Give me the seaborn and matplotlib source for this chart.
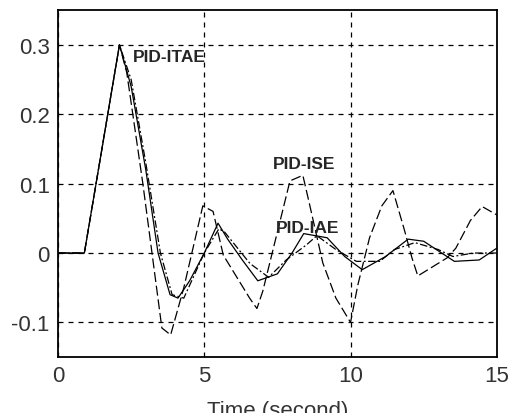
import numpy as np
import pandas as pd
import matplotlib
matplotlib.use("Agg")
import matplotlib.pyplot as plt
import seaborn as sns

# ---- data ----
itae_t = [0, 0.9, 2.1, 2.5, 3.0, 3.42, 3.83, 4.1, 4.5, 5.0, 5.47, 5.8, 6.3, 6.83, 7.5, 8.0, 8.4, 9.2, 9.8, 10.4, 11.2, 11.97, 12.5, 13.55, 14.4, 15.0]
itae_y = [0, 0, 0.30, 0.24, 0.12, 0.0, -0.06, -0.065, -0.04, 0.0, 0.043, 0.02, -0.01, -0.04, -0.03, 0.0, 0.028, 0.022, -0.005, -0.024, -0.005, 0.02, 0.017, -0.012, -0.01, 0.007]

ise_t = [0, 0.9, 2.1, 2.35, 2.9, 3.55, 3.85, 4.3, 4.95, 5.3, 5.65, 6.55, 6.8, 7.0, 7.93, 8.37, 8.6, 9.05, 9.5, 10.0, 10.25, 10.65, 11.07, 11.45, 11.85, 12.1, 12.3, 13.3, 13.6, 14.1, 14.5, 15.0]
ise_y = [0, 0, 0.30, 0.26, 0.10, -0.108, -0.118, -0.05, 0.068, 0.06, -0.003, -0.065, -0.08, -0.055, 0.104, 0.112, 0.07, -0.014, -0.065, -0.10, -0.046, 0.022, 0.068, 0.09, 0.032, -0.007, -0.033, -0.007, 0.007, 0.047, 0.067, 0.055]

iae_t = [0, 0.9, 2.1, 2.5, 3.0, 3.5, 3.9, 4.3, 5.0, 5.5, 5.7, 6.56, 7.2, 7.8, 8.5, 8.85, 9.5, 10.2, 11.0, 11.5, 12.2, 13.0, 13.5, 14.2, 15.0]
iae_y = [0, 0, 0.30, 0.25, 0.13, 0.0, -0.06, -0.065, 0.0, 0.035, 0.03, -0.015, -0.035, -0.01, 0.012, 0.025, 0.005, -0.012, -0.012, 0.005, 0.015, 0.005, -0.005, 0.0, 0.0]

x_ticks = [0, 5, 10, 15]
y_ticks = [-0.1, 0, 0.1, 0.2, 0.3]
y_tick_labels = ["-0.1", "0", "0.1", "0.2", "0.3"]

sns.set_style("white")
plt.rcParams['font.family'] = ['Liberation Sans', 'DejaVu Sans']

fig = plt.figure(figsize=(5.09, 4.14), dpi=100)
ax = fig.add_axes([0.114, 0.135, 0.862, 0.838])

sns.lineplot(x=itae_t, y=itae_y, ax=ax, color="black", linewidth=0.9, sort=False)
sns.lineplot(x=ise_t, y=ise_y, ax=ax, color="black", linewidth=0.9, sort=False,
             linestyle=(0, (8, 3)))
sns.lineplot(x=iae_t, y=iae_y, ax=ax, color="black", linewidth=0.9, sort=False,
             linestyle=(0, (6, 2, 1.5, 2)))

ax.set_xlim(0, 15)
ax.set_ylim(-0.15, 0.35)
ax.set_xticks(x_ticks)
ax.set_xticklabels([str(v) for v in x_ticks])
ax.set_yticks(y_ticks)
ax.set_yticklabels(y_tick_labels)
ax.tick_params(direction="in", length=3, width=0.8, labelsize=16, colors="black",
               labelcolor="#333333", pad=6)
ax.grid(True, color="black", linestyle=(0, (4, 4)), linewidth=0.9)
for s in ax.spines.values():
    s.set_color("black")
    s.set_linewidth(1.3)

ax.set_xlabel("Time (second)", fontsize=16, color="#333333", labelpad=10)
ax.set_ylabel("")

ax.text(2.55, 0.283, "PID-ITAE", fontsize=12.5, fontweight="bold", ha="left", va="center")
ax.text(7.35, 0.129, "PID-ISE", fontsize=12.5, fontweight="bold", ha="left", va="center")
ax.text(7.45, 0.037, "PID-IAE", fontsize=12.5, fontweight="bold", ha="left", va="center")

fig.savefig("out.png", dpi=100)
